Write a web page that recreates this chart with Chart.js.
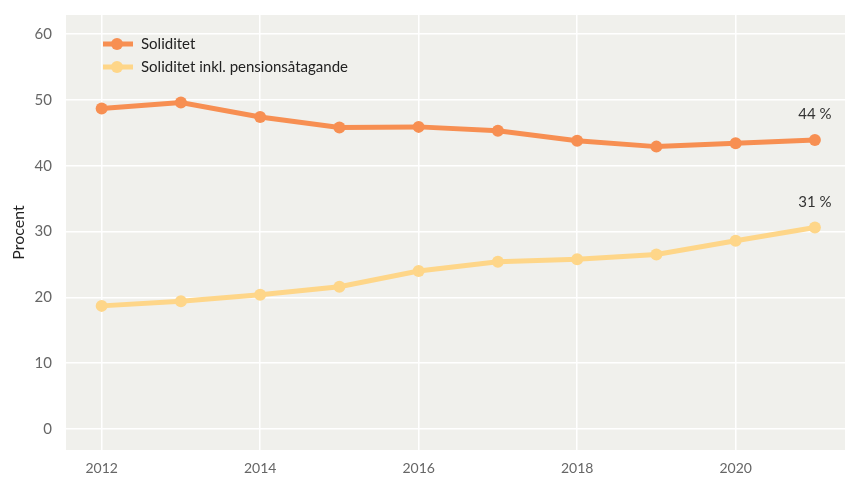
<!DOCTYPE html>
<html>
<head>
<meta charset="utf-8">
<script src="https://cdn.jsdelivr.net/npm/chart.js@4"></script>
<style>
html,body{margin:0;padding:0;background:#fff;}
#wrap{width:845px;height:480px;position:relative;}
</style>
</head>
<body>
<div id="wrap"><canvas id="chart"></canvas></div>
<script>
(function(){
'use strict';

var years = [2012,2013,2014,2015,2016,2017,2018,2019,2020,2021];
var soliditet = [48.7,49.6,47.4,45.8,45.9,45.3,43.8,42.9,43.4,43.9];
var soliditetPension = [18.7,19.4,20.4,21.6,24.0,25.4,25.8,26.5,28.6,30.6];
var xTicks = [2012,2014,2016,2018,2020];
var yTicks = [0,10,20,30,40,50,60];
var endLabels = ['44 %','31 %'];
var seriesNames = ['Soliditet','Soliditet inkl. pensionsåtagande'];

var ORANGE = '#f78f52';
var YELLOW = '#fed689';
var FONT = 'Lato, "Open Sans", sans-serif';

function pts(arr){
  return years.map(function(y,i){return {x:y, y:arr[i]};});
}

var bakgrund = {
  id:'bakgrund',
  beforeDraw:function(chart){
    var a = chart.chartArea, c = chart.ctx;
    c.save();
    c.fillStyle = '#f0f0ec';
    c.fillRect(a.left, a.top, a.right-a.left, a.bottom-a.top);
    c.restore();
  }
};

var etiketter = {
  id:'etiketter',
  afterDatasetsDraw:function(chart){
    var c = chart.ctx;
    c.save();
    c.font = '15px '+FONT;
    c.fillStyle = '#333';
    c.textAlign = 'center';
    c.textBaseline = 'alphabetic';
    chart.data.datasets.forEach(function(ds,i){
      var meta = chart.getDatasetMeta(i);
      var p = meta.data[meta.data.length-1];
      c.fillText(endLabels[i], p.x, p.y - 21);
    });
    // Legende im Diagrammbereich
    var a = chart.chartArea;
    chart.data.datasets.forEach(function(ds,i){
      var y = a.top + 29 + i*23;
      var x0 = a.left + 37;
      c.strokeStyle = ds.borderColor;
      c.lineWidth = 5;
      c.beginPath(); c.moveTo(x0, y); c.lineTo(x0+30, y); c.stroke();
      c.fillStyle = ds.borderColor;
      c.beginPath(); c.arc(x0+14, y, 6, 0, Math.PI*2); c.fill();
      c.fillStyle = '#222';
      c.textAlign = 'left';
      c.textBaseline = 'middle';
      c.font = '15px '+FONT;
      c.fillText(ds.label, x0+38, y);
    });
    c.restore();
  }
};

function keinPadding(s){
  s.paddingLeft = 0; s.paddingRight = 0; s.paddingTop = 0; s.paddingBottom = 0;
}

new Chart(document.getElementById('chart').getContext('2d'), {
  type:'line',
  data:{datasets:[
    {label:seriesNames[0], data:pts(soliditet), borderColor:ORANGE, backgroundColor:ORANGE,
     borderWidth:5, pointRadius:6, pointBorderWidth:0, tension:0},
    {label:seriesNames[1], data:pts(soliditetPension), borderColor:YELLOW, backgroundColor:YELLOW,
     borderWidth:5, pointRadius:6, pointBorderWidth:0, tension:0}
  ]},
  options:{
    responsive:true,
    maintainAspectRatio:false,
    animation:false,
    layout:{autoPadding:false, padding:{top:15,right:0,bottom:0,left:0}},
    scales:{
      x:{
        type:'linear', min:2011.55, max:2021.38,
        afterBuildTicks:function(s){s.ticks = xTicks.map(function(v){return {value:v};});},
        afterFit:function(s){s.height = 30; keinPadding(s);},
        ticks:{color:'#666', font:{family:FONT, size:14}, padding:10,
               callback:function(v){return String(v);}},
        grid:{color:'#ffffff', lineWidth:1.5, drawTicks:false},
        border:{display:false}
      },
      y:{
        min:-3.2, max:62.9,
        afterBuildTicks:function(s){s.ticks = yTicks.map(function(v){return {value:v};});},
        afterFit:function(s){s.width = 66; keinPadding(s);},
        ticks:{color:'#666', font:{family:FONT, size:15}, padding:14},
        grid:{color:'#ffffff', lineWidth:1.5, drawTicks:false},
        border:{display:false},
        title:{display:true, text:'Procent', color:'#222', font:{family:FONT, size:16}, padding:{top:9,bottom:0}}
      }
    },
    plugins:{
      legend:{display:false},
      tooltip:{enabled:false}
    }
  },
  plugins:[bakgrund, etiketter]
});

})();
</script>
</body>
</html>
